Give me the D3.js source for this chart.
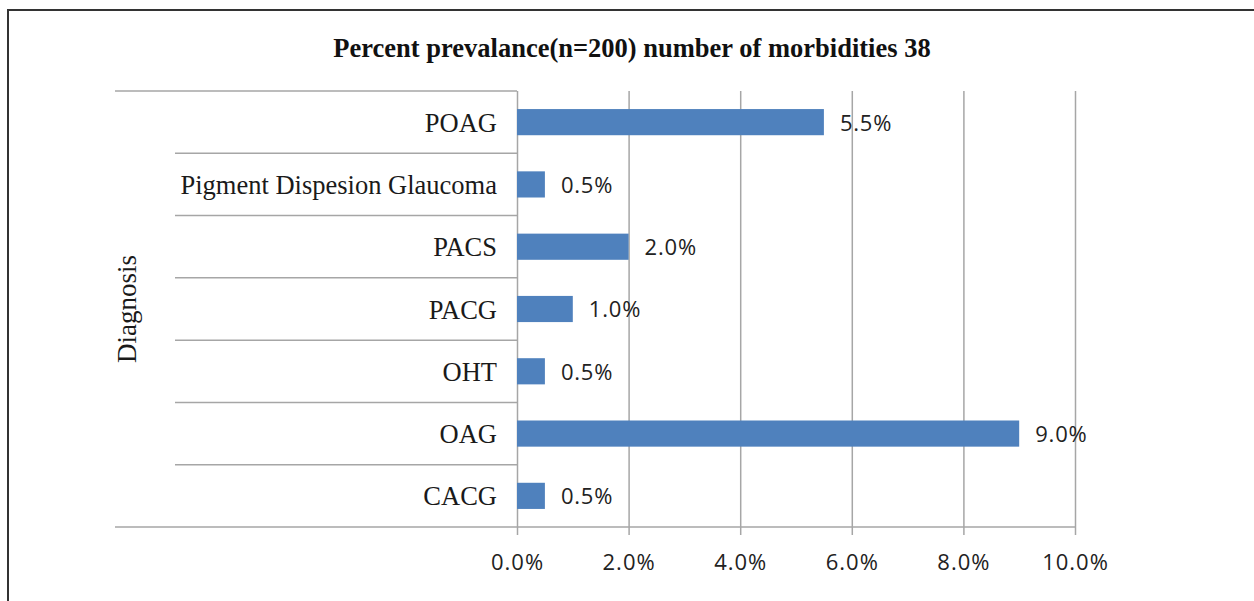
<!DOCTYPE html>
<html>
<head>
<meta charset="utf-8">
<script src="https://cdn.jsdelivr.net/npm/d3@7"></script>
<style>
  body { margin: 0; background: #fff; }
  svg { display: block; }
</style>
</head>
<body>
<script>
// chart data
var categories = ['POAG', 'Pigment Dispesion Glaucoma', 'PACS', 'PACG', 'OHT', 'OAG', 'CACG'];
var prevalence = [5.5, 0.5, 2.0, 1.0, 0.5, 9.0, 0.5];
var tickValues = [0, 2, 4, 6, 8, 10];
var chartTitle = 'Percent prevalance(n=200) number of morbidities 38';
var axisTitle = 'Diagnosis';

var svgWidth = 1254;
var svgHeight = 601;
var plotLeft = 517;
var plotRight = 1075;
var plotTop = 91;
var plotBottom = 527;
var gridColor = '#a6a6a6';
var barColor = '#4f81bd';

var svg = d3.select('body').append('svg')
    .attr('width', svgWidth)
    .attr('height', svgHeight);

svg.append('rect')
    .attr('width', svgWidth).attr('height', svgHeight)
    .attr('fill', '#fff');

// outer frame (only left and top edges are visible)
svg.append('rect')
    .attr('x', 8).attr('y', 10)
    .attr('width', 1300).attr('height', 700)
    .attr('fill', 'none')
    .attr('stroke', '#333')
    .attr('stroke-width', 2);

var xScale = d3.scaleLinear()
    .domain([0, 10])
    .range([plotLeft, plotRight]);

var yScale = d3.scaleBand()
    .domain(categories)
    .range([plotTop, plotBottom])
    .paddingInner(0.58)
    .paddingOuter(0.29);

var step = yScale.step();

// vertical gridlines + ticks below axis
var xAxis = d3.axisBottom(xScale)
    .tickValues(tickValues)
    .tickSize(-(plotBottom - plotTop))
    .tickSizeOuter(0)
    .tickFormat(function(d) { return d.toFixed(1) + '%'; });

var gx = svg.append('g')
    .attr('transform', 'translate(0,' + plotBottom + ')')
    .call(xAxis);
gx.select('.domain').remove();
gx.selectAll('.tick line')
    .attr('stroke', gridColor)
    .attr('stroke-width', 1.5)
    .attr('y2', -(plotBottom - plotTop))
    .attr('y1', 8);
gx.selectAll('.tick text')
    .attr('y', 27)
    .attr('dy', '0.71em')
    .attr('fill', '#222')
    .style('font-family', '"Open Sans", sans-serif')
    .style('font-size', '22px')
    .style('letter-spacing', '1px');

// category separators in the label area
var bounds = d3.range(categories.length + 1).map(function(i) {
    return plotTop + i * step;
});
svg.selectAll('line.sep')
    .data(bounds)
    .enter()
    .append('line')
    .attr('class', 'sep')
    .attr('x1', function(d, i) { return (i === 0 || i === categories.length) ? 115 : 175; })
    .attr('x2', function(d, i) { return i === categories.length ? plotRight : plotLeft; })
    .attr('y1', function(d) { return d; })
    .attr('y2', function(d) { return d; })
    .attr('stroke', gridColor)
    .attr('stroke-width', 1.5);

// bars
svg.selectAll('rect.bar')
    .data(prevalence)
    .enter()
    .append('rect')
    .attr('class', 'bar')
    .attr('x', xScale(0))
    .attr('y', function(d, i) { return yScale(categories[i]); })
    .attr('width', function(d) { return xScale(d) - xScale(0); })
    .attr('height', yScale.bandwidth())
    .attr('fill', barColor);

// value labels
svg.selectAll('text.val')
    .data(prevalence)
    .enter()
    .append('text')
    .attr('class', 'val')
    .attr('x', function(d) { return xScale(d) + 16; })
    .attr('y', function(d, i) { return yScale(categories[i]) + yScale.bandwidth() / 2; })
    .attr('dy', '0.38em')
    .attr('fill', '#222')
    .style('font-family', '"Open Sans", sans-serif')
    .style('font-size', '22px')
    .style('letter-spacing', '0.8px')
    .text(function(d) { return d.toFixed(1) + '%'; });

// category labels
svg.selectAll('text.cat')
    .data(categories)
    .enter()
    .append('text')
    .attr('class', 'cat')
    .attr('x', 497)
    .attr('y', function(d) { return yScale(d) + yScale.bandwidth() / 2; })
    .attr('dy', '0.36em')
    .attr('text-anchor', 'end')
    .attr('fill', '#1a1a1a')
    .style('font-family', '"Liberation Serif", "Times New Roman", serif')
    .style('font-size', '26.5px')
    .text(function(d) { return d; });

// axis title
svg.append('text')
    .attr('transform', 'translate(136,' + ((plotTop + plotBottom) / 2) + ') rotate(-90)')
    .attr('text-anchor', 'middle')
    .attr('fill', '#1a1a1a')
    .style('font-family', '"Liberation Serif", "Times New Roman", serif')
    .style('font-size', '27px')
    .text(axisTitle);

// chart title
svg.append('text')
    .attr('x', 632)
    .attr('y', 57)
    .attr('text-anchor', 'middle')
    .attr('fill', '#111')
    .style('font-family', '"Liberation Serif", "Times New Roman", serif')
    .style('font-weight', 'bold')
    .style('font-size', '26.5px')
    .text(chartTitle);
</script>
</body>
</html>
